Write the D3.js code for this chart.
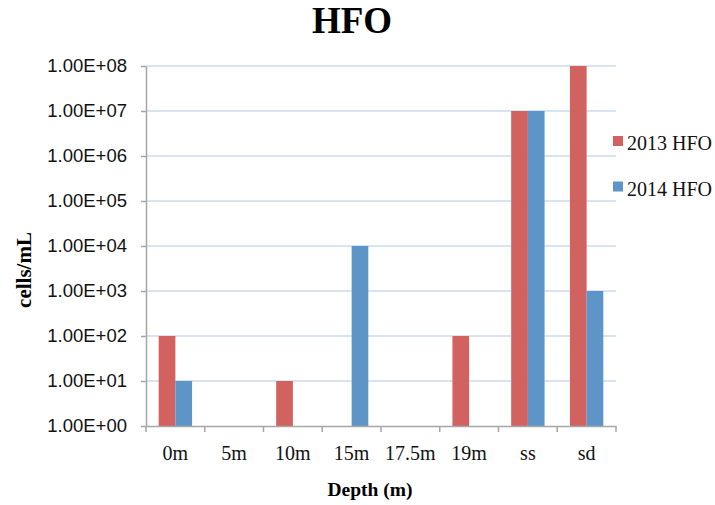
<!DOCTYPE html>
<html>
<head>
<meta charset="utf-8">
<script src="https://cdn.jsdelivr.net/npm/d3@7"></script>
<style>
  html, body { margin: 0; padding: 0; background: #fff; }
  svg { display: block; }
</style>
</head>
<body>
<svg id="chart" width="715" height="505"></svg>
<script>
// Sampling depths (x categories)
const depths = ["0m", "5m", "10m", "15m", "17.5m", "19m", "ss", "sd"];
// Series names
const seriesNames = ["2013 HFO", "2014 HFO"];
// Cell counts (cells/mL); null where no count was recorded
const hfo2013 = [1e2, null, 1e1, null, null, 1e2, 1e7, 1e8];
const hfo2014 = [1e1, null, null, 1e4, null, null, 1e7, 1e3];
// Log-axis tick values and their labels
const yTickValues = [1e0, 1e1, 1e2, 1e3, 1e4, 1e5, 1e6, 1e7, 1e8];
const yTickLabels = ["1.00E+00", "1.00E+01", "1.00E+02", "1.00E+03", "1.00E+04",
                     "1.00E+05", "1.00E+06", "1.00E+07", "1.00E+08"];

const seriesValues = [hfo2013, hfo2014];
const colors = ["#d1625f", "#5d95c8"];
const serif = "'Liberation Serif', 'Times New Roman', serif";
const sans = "'Liberation Sans Narrow', 'Liberation Sans', Arial, sans-serif";

const svg = d3.select("#chart");
const plot = { left: 146, right: 616, top: 66, bottom: 426 };

const x0 = d3.scaleBand().domain(depths).range([plot.left, plot.right]).padding(0);
const x1 = d3.scaleBand().domain(seriesNames).range([0, x0.bandwidth()])
  .paddingInner(0).paddingOuter(0.76);
const y = d3.scaleLog().domain([1, 1e8]).range([plot.bottom, plot.top]);

// Horizontal gridlines
svg.append("g").selectAll("line")
  .data(yTickValues.slice(1))
  .join("line")
  .attr("x1", plot.left).attr("x2", plot.right)
  .attr("y1", d => y(d)).attr("y2", d => y(d))
  .attr("stroke", "#cddbef").attr("stroke-width", 1.5);

// Bars
const rows = [];
depths.forEach((dep, i) => {
  seriesNames.forEach((s, j) => {
    const v = seriesValues[j][i];
    if (v != null) rows.push({ dep, s, j, v });
  });
});
svg.append("g").selectAll("rect")
  .data(rows)
  .join("rect")
  .attr("x", d => x0(d.dep) + x1(d.s))
  .attr("y", d => y(d.v))
  .attr("width", x1.bandwidth())
  .attr("height", d => y(1) - y(d.v))
  .attr("fill", d => colors[d.j]);

// Y axis
const yAxis = d3.axisLeft(y)
  .tickValues(yTickValues)
  .tickFormat((d, i) => yTickLabels[i])
  .tickSizeInner(5).tickSizeOuter(0).tickPadding(14);
const gy = svg.append("g").attr("transform", `translate(${plot.left},0)`).call(yAxis);
gy.select(".domain").attr("stroke", "#a6a6a6").attr("stroke-width", 1.5);
gy.selectAll(".tick line").attr("stroke", "#a6a6a6").attr("stroke-width", 1.5);
gy.selectAll(".tick text")
  .attr("font-family", sans).attr("font-size", 18.5).attr("fill", "#111");

// X axis: band-edge ticks
const xAxis = d3.axisBottom(x0).tickSize(0).tickPadding(20);
const gx = svg.append("g").attr("transform", `translate(0,${plot.bottom})`).call(xAxis);
gx.select(".domain").attr("stroke", "#a6a6a6").attr("stroke-width", 1.5);
gx.selectAll(".tick text")
  .attr("font-family", serif).attr("font-size", 20).attr("fill", "#111")
  .attr("dy", "0.71em");
const edges = depths.map(d => x0(d)).concat([plot.right]);
gx.append("g").selectAll("line")
  .data(edges)
  .join("line")
  .attr("x1", d => d).attr("x2", d => d)
  .attr("y1", 0).attr("y2", 6)
  .attr("stroke", "#a6a6a6").attr("stroke-width", 1.5);

// Title
svg.append("text")
  .attr("x", 352).attr("y", 33)
  .attr("text-anchor", "middle")
  .attr("font-family", serif).attr("font-weight", "bold").attr("font-size", 37)
  .text("HFO");

// Axis titles
svg.append("text")
  .attr("x", 370).attr("y", 496)
  .attr("text-anchor", "middle")
  .attr("font-family", serif).attr("font-weight", "bold").attr("font-size", 19.5)
  .text("Depth (m)");
svg.append("text")
  .attr("transform", "translate(31,270) rotate(-90)")
  .attr("text-anchor", "middle")
  .attr("font-family", serif).attr("font-weight", "bold").attr("font-size", 21)
  .text("cells/mL");

// Legend
const legend = svg.append("g").selectAll("g")
  .data(seriesNames)
  .join("g")
  .attr("transform", (d, i) => `translate(613,${136 + i * 45.5})`);
legend.append("rect")
  .attr("width", 10).attr("height", 10)
  .attr("fill", (d, i) => colors[i]);
legend.append("text")
  .attr("x", 14).attr("y", 14)
  .attr("font-family", serif).attr("font-size", 20).attr("fill", "#111")
  .text(d => d);
</script>
</body>
</html>
